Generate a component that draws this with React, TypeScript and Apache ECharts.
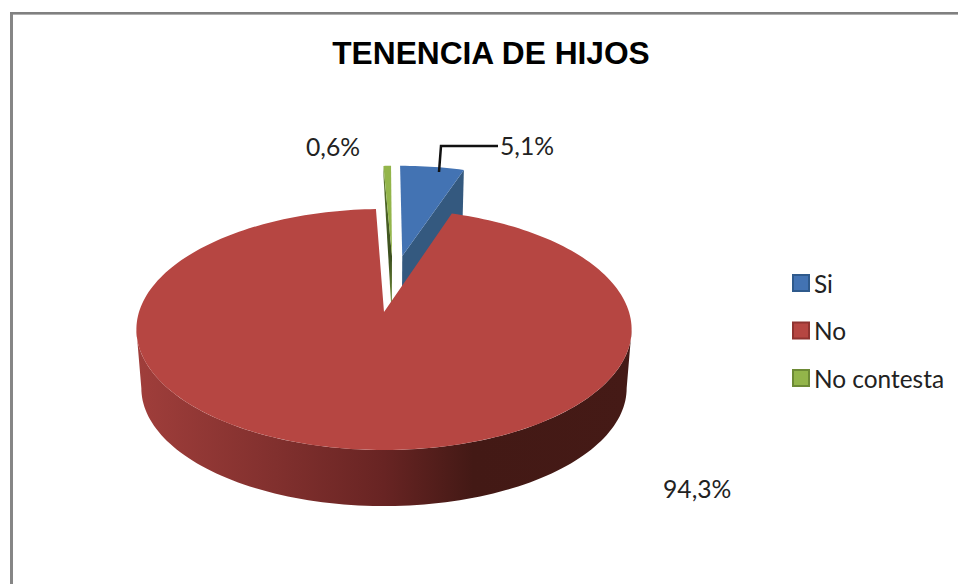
import React, { useEffect, useRef } from "react";
import * as echarts from "echarts";

const titleText = "TENENCIA DE HIJOS";
const categories = ["Si", "No", "No contesta"];
const shares = [5.1, 94.3, 0.6];
const shareLabels = ["5,1%", "94,3%", "0,6%"];
const topColors = ["#4373b3", "#b64642", "#93b54a"];
const legendBorders = ["#2f5a8c", "#8f3330", "#6d8a35"];

// projection of the pie plane onto the page
const CX = 384, CY = 312, K = 0.145, BX = 245, AY = 118;
const BOTTOM_X = 0.98, BOTTOM_Y = 371, BOTTOM_A = 115.5;
const top = (u: number, v: number) => {
  const s = 1 - K * v;
  return [CX + (BX * u) / s, CY + (AY * v) / s];
};
const bottom = (u: number, v: number) => {
  const s = 1 - K * v;
  return [CX + (BX * BOTTOM_X * u) / s, BOTTOM_Y + (BOTTOM_A * v) / s];
};

const offsets = [[0.08, -0.51], [0, 0], [0.035, -0.51]];
const labelAt = [[500, 145], [663, 488], [306, 146]];

const total = shares.reduce((a, b) => a + b, 0);
const toDeg = (p: number) => (p / total) * 360;
const ranges = (() => {
  const out: number[][] = [];
  let c = 0;
  for (const s of shares) {
    out.push([c, c + toDeg(s)]);
    c += toDeg(s);
  }
  return out;
})();

const rim = (i: number, fn: typeof top, a0: number, a1: number) => {
  const [ou, ov] = offsets[i];
  const n = Math.max(4, Math.ceil((a1 - a0) / 1.5));
  const pts: number[][] = [];
  for (let j = 0; j <= n; j++) {
    const a = ((a0 + ((a1 - a0) * j) / n) * Math.PI) / 180;
    pts.push(fn(ou + Math.sin(a), ov - Math.cos(a)));
  }
  return pts;
};

// angles at which the pie outline is widest on the page
const sideAngle = (Math.acos(-K) * 180) / Math.PI;

const faceFill = [
  "#34597f",
  "#7a2b29",
  {
    type: "linear", x: 0, y: 0, x2: 0, y2: 1,
    colorStops: [
      { offset: 0, color: "#6f8d38" },
      { offset: 0.25, color: "#4c6526" },
      { offset: 0.6, color: "#3c4f1f" },
      { offset: 1, color: "#7b9a3d" },
    ],
  },
];

const makeRender = (i: number) => (_p: any, api: any) => {
  api.value(0);
  const [a0, a1] = ranges[i];
  const [ou, ov] = offsets[i];
  const children: any[] = [];
  const topRim = rim(i, top, a0, a1);
  const botRim = rim(i, bottom, a0, a1);
  const apexT = top(ou, ov);
  const apexB = bottom(ou, ov);
  if (i === 1) {
    // visible front of the outer wall of the big slice
    const tf = rim(i, top, sideAngle, 360 - sideAngle);
    const bf = rim(i, bottom, sideAngle, 360 - sideAngle);
    children.push({
      type: "polygon",
      shape: { points: [...tf, ...bf.slice().reverse()] },
      style: {
        fill: {
          type: "linear", x: 0, y: 0, x2: 1, y2: 0,
          colorStops: [
            { offset: 0, color: "#a03e3b" },
            { offset: 0.3, color: "#7f2f2d" },
            { offset: 0.5, color: "#682423" },
            { offset: 0.68, color: "#431915" },
            { offset: 1, color: "#451a16" },
          ],
        },
      },
    });
  } else {
    // radial cut face that looks towards the viewer
    const rimT = i === 0 ? topRim[topRim.length - 1] : topRim[0];
    const rimB = i === 0 ? botRim[botRim.length - 1] : [rimT[0], rimT[1] + 10];
    children.push({
      type: "polygon",
      shape: { points: [apexT, rimT, rimB, apexB] },
      style: { fill: faceFill[i] },
    });
  }
  children.push({
    type: "polygon",
    shape: { points: [apexT, ...topRim] },
    style: { fill: topColors[i] },
  });
  if (i === 0) {
    children.push({
      type: "polyline",
      shape: { points: [[439, 172], [441, 146], [498, 146]] },
      style: { stroke: "#111", lineWidth: 2.5, fill: "none" },
    });
  }
  const [lx, ly] = labelAt[i];
  children.push({
    type: "text",
    x: lx, y: ly,
    style: {
      text: shareLabels[i],
      font: "24.7px Lato",
      fill: "#222",
      align: "left",
      verticalAlign: "middle",
    },
  });
  return { type: "group", children };
};

export default function App() {
  const ref = useRef<HTMLDivElement>(null);
  useEffect(() => {
    const chart = echarts.init(ref.current!, null, { renderer: "svg" });
    chart.setOption({
      animation: false,
      backgroundColor: "#fff",
      title: {
        text: titleText,
        left: 486, top: 32, textAlign: "center",
        textStyle: { fontFamily: "Liberation Sans", fontSize: 31.7, fontWeight: "bold", color: "#000" },
      },
      legend: {
        orient: "vertical", left: 787, top: 266,
        itemWidth: 16, itemHeight: 16, itemGap: 23.5,
        icon: "rect",
        data: categories,
        textStyle: { fontFamily: "Lato", fontSize: 24.4, color: "#222" },
      },
      graphic: [
        { type: "rect", shape: { x: 10, y: 12, width: 3, height: 572 }, style: { fill: "#868686" } },
        { type: "rect", shape: { x: 10, y: 12, width: 948, height: 2 }, style: { fill: "#808080" } },
        { type: "rect", shape: { x: 13, y: 14, width: 945, height: 1 }, style: { fill: "#b0b0b0" } },
      ],
      series: categories.map((name, i) => ({
        type: "custom",
        name,
        z: i === 1 ? 3 : 2,
        coordinateSystem: "none",
        data: [[shares[i]]],
        itemStyle: { color: topColors[i], borderColor: legendBorders[i], borderWidth: 2 },
        renderItem: makeRender(i),
        silent: true,
      })),
    });
    return () => chart.dispose();
  }, []);
  return <div ref={ref} style={{ position: "absolute", left: 0, top: 0, width: 958, height: 584 }} />;
}
